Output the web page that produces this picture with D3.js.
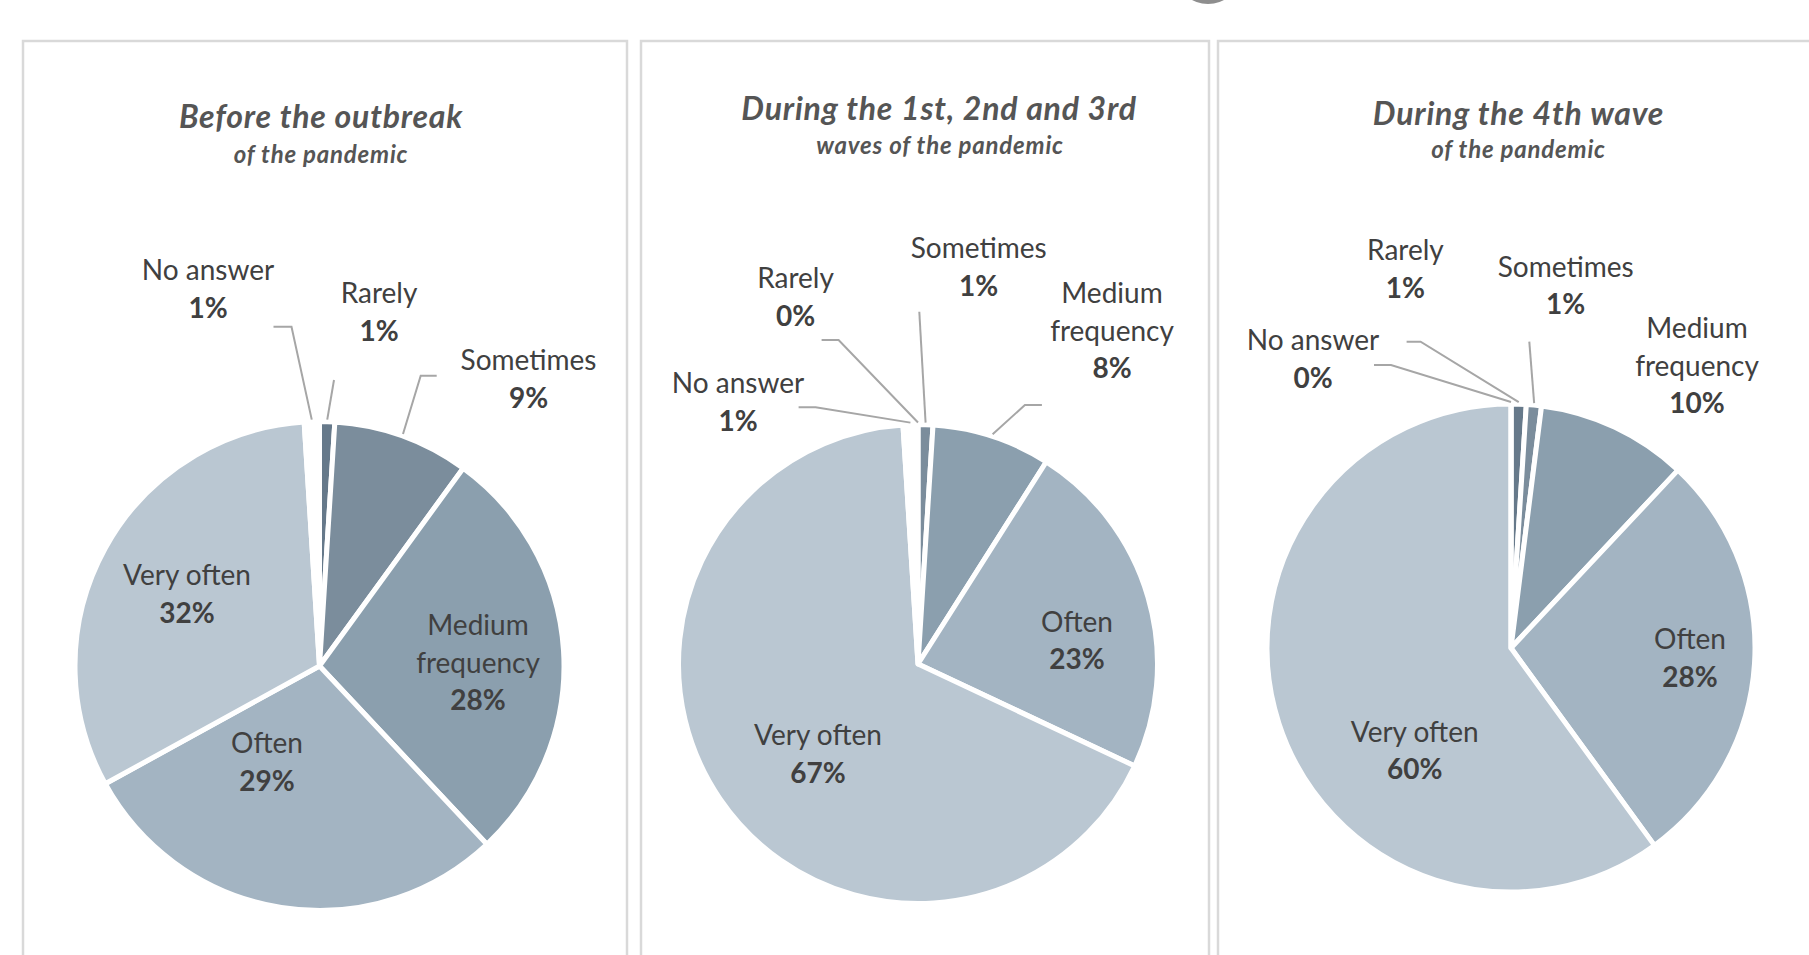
<!DOCTYPE html>
<html>
<head>
<meta charset="utf-8">
<script src="https://cdn.jsdelivr.net/npm/d3@7/dist/d3.min.js"></script>
<style>
  html, body { margin: 0; padding: 0; background: #ffffff; }
  svg { display: block; }
  text { font-family: Lato, "Open Sans", sans-serif; }
</style>
</head>
<body>
<svg id="chart" width="1809" height="955"></svg>
<script>
// Answer categories, in the order the slices run clockwise from 12 o'clock
const categories = ["Rarely", "Sometimes", "Medium frequency", "Often", "Very often", "No answer"];

// Share of respondents (%) per period
const beforeValues = [1, 9, 28, 29, 32, 1];
const wavesValues  = [0, 1, 8, 23, 67, 1];
const fourthValues = [1, 1, 10, 28, 60, 0];

const panelTitles    = ["Before the outbreak", "During the 1st, 2nd and 3rd", "During the 4th wave"];
const panelSubtitles = ["of the pandemic", "waves of the pandemic", "of the pandemic"];

// Slice fills, one per category
const sliceColors = ["#66798a", "#7b8d9c", "#8b9fae", "#a3b4c2", "#bac7d2", "#ffffff"];

// ---- layout ----
// label: [dx, dy] of the first baseline from the pie centre
// leader: start point, horizontal elbow length (0 = straight line)
const panels = [
  {
    values: beforeValues, box: [23, 41, 604], cx: 319.5, cy: 666, r: 244.5,
    title: [321, 128], subtitle: [321, 163],
    labels: {
      "Rarely":           { at: [59.5, -363], leader: { x: 334, y: 380, elbow: 0 } },
      "Sometimes":        { at: [209, -296], leader: { x: 436.7, y: 375.7, elbow: -16 } },
      "Medium frequency": { at: [158.5, -31] },
      "Often":            { at: [-52.5, 87] },
      "Very often":       { at: [-132.5, -81] },
      "No answer":        { at: [-111.5, -386], leader: { x: 273.5, y: 326.7, elbow: 18 } }
    }
  },
  {
    values: wavesValues, box: [641, 41, 568], cx: 918, cy: 664, r: 239.5,
    title: [939, 119.5], subtitle: [940, 153.5],
    labels: {
      "Rarely":           { at: [-122.5, -375.7], leader: { x: 821.6, y: 340, elbow: 17 } },
      "Sometimes":        { at: [60.7, -406], leader: { x: 919.3, y: 311.7, elbow: 0 } },
      "Medium frequency": { at: [194, -360.7], leader: { x: 1041.9, y: 405, elbow: -17 } },
      "Often":            { at: [159, -32.3] },
      "Very often":       { at: [-100, 81] },
      "No answer":        { at: [-180, -270.7], leader: { x: 798.6, y: 407.3, elbow: 17 } }
    }
  },
  {
    values: fourthValues, box: [1218, 41, 620], cx: 1511, cy: 648, r: 244,
    title: [1518.5, 125], subtitle: [1518.5, 157.5],
    labels: {
      "Rarely":           { at: [-105.6, -388], leader: { x: 1406.6, y: 341.7, elbow: 14 } },
      "Sometimes":        { at: [54.7, -371.3], leader: { x: 1529.3, y: 341.7, elbow: 0 } },
      "Medium frequency": { at: [186, -309.7] },
      "Often":            { at: [179, 1.3] },
      "Very often":       { at: [-96.3, 93.7] },
      "No answer":        { at: [-198, -298], leader: { x: 1374, y: 365, elbow: 17 } }
    }
  }
];

const svg = d3.select("#chart");
const lineGap = 37.5;

// small cropped mark at the top edge of the page
svg.append("ellipse")
  .attr("cx", 1208).attr("cy", -22).attr("rx", 30).attr("ry", 26)
  .attr("fill", "#7a7a7a").attr("opacity", 0.85);

const pie = d3.pie().sort(null).value(d => d.value).startAngle(0).endAngle(2 * Math.PI);

panels.forEach((p, i) => {
  const g = svg.append("g");

  // panel frame (runs off the bottom of the page)
  g.append("path")
    .attr("d", `M${p.box[0]},1000 V${p.box[1]} H${p.box[0] + p.box[2]} V1000`)
    .attr("fill", "none")
    .attr("stroke", "#d9d9d9")
    .attr("stroke-width", 2.5);

  // titles
  g.append("text")
    .attr("x", p.title[0]).attr("y", p.title[1])
    .attr("text-anchor", "middle")
    .attr("font-size", 32).attr("font-weight", 700).attr("font-style", "italic")
    .attr("letter-spacing", 0.8)
    .attr("fill", "#555555")
    .text(panelTitles[i]);
  g.append("text")
    .attr("x", p.subtitle[0]).attr("y", p.subtitle[1])
    .attr("text-anchor", "middle")
    .attr("font-size", 24).attr("font-weight", 700).attr("font-style", "italic")
    .attr("letter-spacing", 0.8)
    .attr("fill", "#555555")
    .text(panelSubtitles[i]);

  const data = categories.map((c, k) => ({ name: c, value: p.values[k], color: sliceColors[k] }));
  const arcs = pie(data);
  const arc = d3.arc().innerRadius(0).outerRadius(p.r);

  const pg = g.append("g").attr("transform", `translate(${p.cx},${p.cy})`);
  pg.selectAll("path.slice")
    .data(arcs)
    .join("path")
    .attr("class", "slice")
    .attr("d", arc)
    .attr("fill", d => d.data.color)
    .attr("stroke", "#ffffff")
    .attr("stroke-width", 5)
    .attr("stroke-linejoin", "round");

  // leader lines from outside labels to the slice rim
  arcs.forEach(a => {
    const lab = p.labels[a.data.name];
    if (!lab || !lab.leader) return;
    const mid = (a.startAngle + a.endAngle) / 2;
    const R = p.r + 2;
    const ex = p.cx + R * Math.sin(mid);
    const ey = p.cy - R * Math.cos(mid);
    const L = lab.leader;
    const pts = L.elbow ? [[L.x, L.y], [L.x + L.elbow, L.y], [ex, ey]] : [[L.x, L.y], [ex, ey]];
    g.append("path")
      .attr("d", d3.line()(pts))
      .attr("fill", "none")
      .attr("stroke", "#a6a6a6")
      .attr("stroke-width", 2);
  });

  // data labels: category name then bold percentage
  arcs.forEach(a => {
    const lab = p.labels[a.data.name];
    const nameLines = a.data.name === "Medium frequency" ? ["Medium", "frequency"] : [a.data.name];
    const t = g.append("text")
      .attr("x", p.cx + lab.at[0]).attr("y", p.cy + lab.at[1])
      .attr("text-anchor", "middle")
      .attr("font-size", 28)
      .attr("fill", "#404040");
    nameLines.forEach((ln, j) => {
      t.append("tspan")
        .attr("x", p.cx + lab.at[0])
        .attr("dy", j === 0 ? 0 : lineGap)
        .text(ln);
    });
    t.append("tspan")
      .attr("x", p.cx + lab.at[0])
      .attr("dy", lineGap)
      .attr("font-weight", 700)
      .text(d3.format(".0f")(a.data.value) + "%");
  });
});
</script>
</body>
</html>
